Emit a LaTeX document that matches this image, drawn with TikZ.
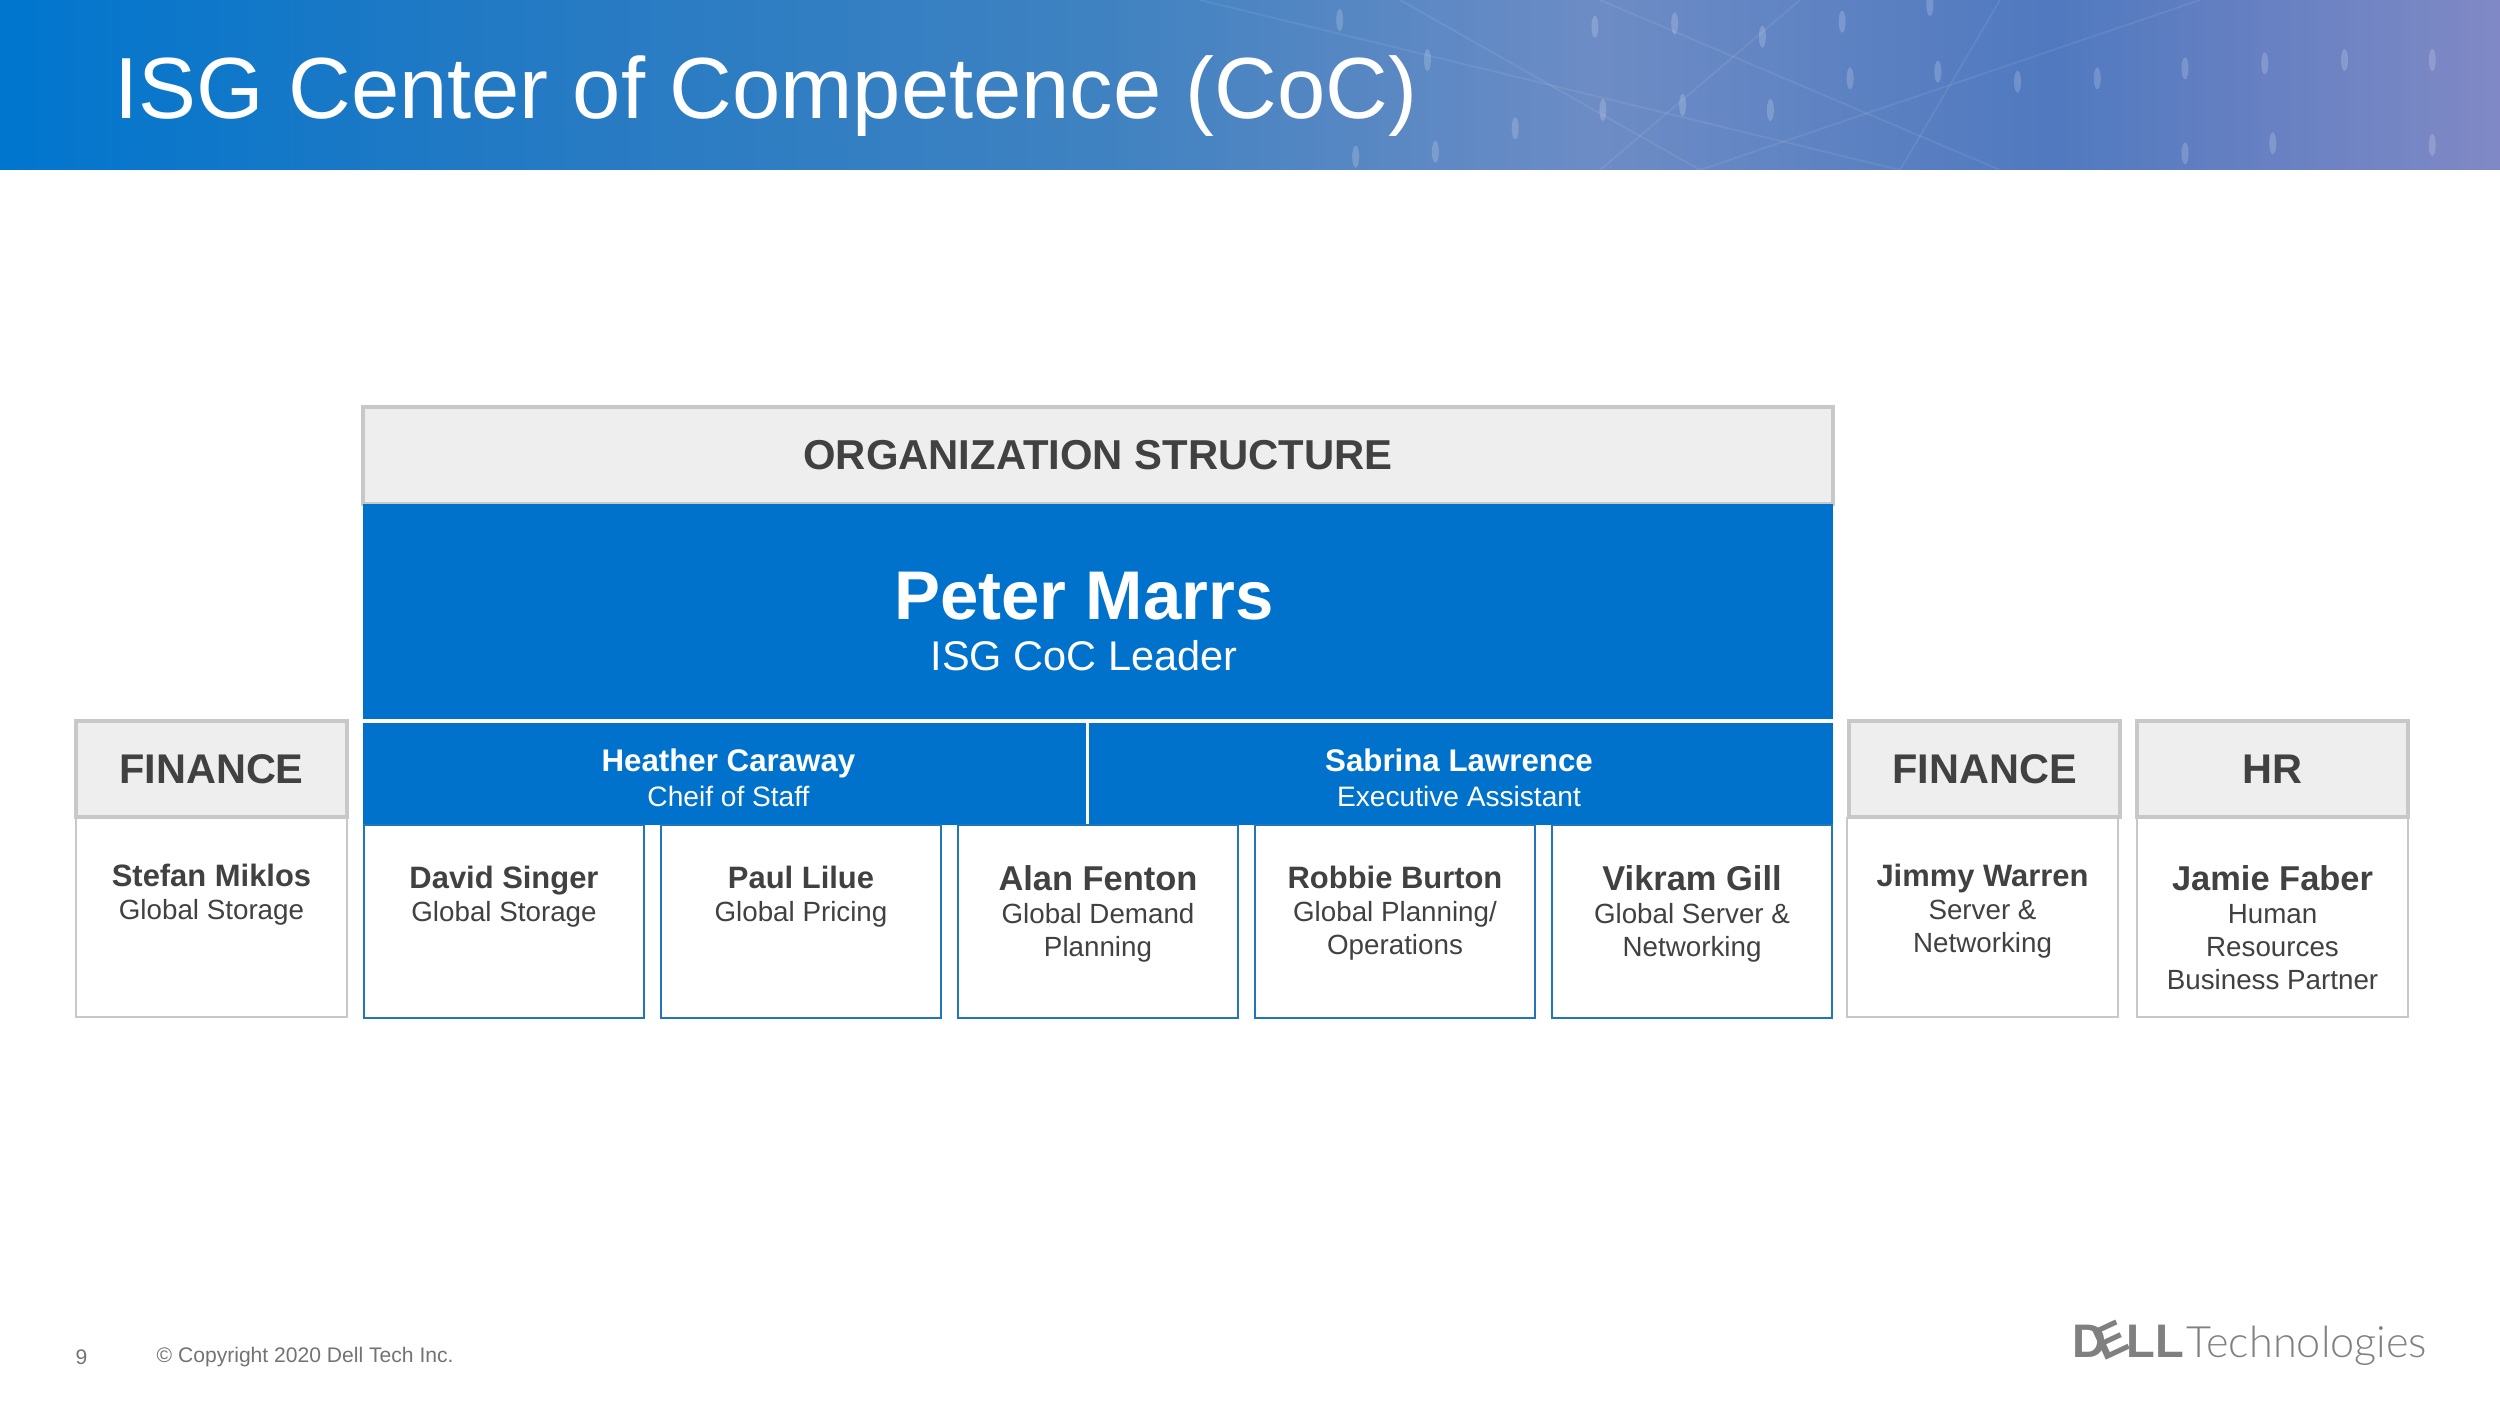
\documentclass[tikz,border=0pt]{standalone}
\usepackage{fontspec}
\setmainfont{Liberation Sans}
\newfontfamily\logofont{Lato Light}
\usetikzlibrary{positioning, shapes.geometric}

\definecolor{dellblue}{HTML}{0072CB}
\definecolor{edgeblue}{HTML}{1F76BC}
\definecolor{edgegray}{HTML}{C8C8C8}
\definecolor{headgray}{HTML}{EEEEEE}
\definecolor{inkgray}{HTML}{414141}
\definecolor{logogray}{HTML}{808080}
\definecolor{bannera}{HTML}{0076CE}
\definecolor{bannerb}{HTML}{2079C4}
\definecolor{bannerc}{HTML}{3F82C1}
\definecolor{bannerd}{HTML}{6D8CC5}
\definecolor{bannere}{HTML}{5079BF}
\definecolor{bannerf}{HTML}{8089C5}

\pgfdeclarehorizontalshading{bannershade}{100bp}{
  color(0bp)=(bannera);
  color(25bp)=(bannera);
  color(34bp)=(bannerb);
  color(47bp)=(bannerc);
  color(57bp)=(bannerd);
  color(66bp)=(bannere);
  color(75bp)=(bannerf);
  color(100bp)=(bannerf)}

\newcommand{\nameS}[1]{{\fontsize{8.8}{9.6}\selectfont\bfseries #1}}
\newcommand{\nameL}[1]{{\fontsize{9.8}{9.6}\selectfont\bfseries #1}}

\begin{document}
\begin{tikzpicture}[
        headbox/.style={rectangle, draw=edgegray, line width=0.9pt, fill=headgray, outer sep=0pt,
                  text=inkgray, font=\fontsize{11.8}{13}\selectfont\bfseries, minimum width=2.71cm, minimum height=0.96cm},
        sidebox/.style={rectangle, draw=edgegray, line width=0.8pt, fill=white, outer sep=0pt,
                  minimum width=2.71cm, minimum height=1.99cm},
        b/.style={rectangle, draw=edgeblue, line width=0.75pt, fill=white, outer sep=0pt,
                  minimum width=2.8cm, minimum height=1.93cm},
        solid/.style={rectangle, fill=dellblue, outer sep=0pt, text=white, align=center},
        barlabel/.style={text=white, align=center, inner sep=0pt},
        who/.style={text=inkgray, align=center, inner sep=0pt, font=\fontsize{7.9}{9.4}\selectfont},
        node distance=0.17cm]
      \useasboundingbox (0,0) rectangle (25,-14.03);

      % banner
      \shade[shading=bannershade] (0,0) rectangle (25,-1.7);
      \foreach \a/\b in {1000/80, 1050/70, 1155/65, 1105/110, 1210/15, 840/60, 895/180, 1215/215,
                         1160/235, 1265/245, 1315/235, 1370/205, 1420/190, 1470/180, 1525/180, 1005/330,
                         1055/315, 1110/330, 950/385, 900/455, 850/470, 1425/430, 1370/460, 1525/435}
        \fill[white, opacity=0.18] ({\a/62.7},{-\b/300}) ellipse (0.035 and 0.11);
      \foreach \a/\b in {12/19, 14/17, 16/20, 18/16, 20/19, 22/17}
        \draw[white, opacity=0.08, line width=0.5pt] (\a,0) -- (\b,-1.7);
      \node[anchor=west, inner sep=0pt, text=white, font=\fontsize{24.7}{28}\selectfont] (title) at (1.14,-0.96)
        {ISG Center of Competence (CoC)};

      % middle block
      \node[rectangle, draw=edgegray, line width=0.9pt, fill=headgray, outer sep=0pt, anchor=north west,
            minimum width=14.7cm, minimum height=0.97cm, text=inkgray,
            font=\fontsize{11.9}{13}\selectfont\bfseries] (org) at (3.63,-4.07) {ORGANIZATION STRUCTURE};
      \node[solid, below=0pt of org, minimum width=14.7cm, minimum height=2.15cm] (peter) {};
      \node[barlabel] (peterlabel) at ([xshift=-0.14cm,yshift=-0.1cm]peter.center)
        {{\fontsize{19.6}{21}\selectfont\bfseries Peter Marrs} \\[2.7pt] {\fontsize{11.8}{13}\selectfont ISG CoC Leader}};
      \node[solid, anchor=north west, minimum width=7.23cm, minimum height=1.02cm] (heather) at (3.63,-7.23) {};
      \node[solid, right=0.03cm of heather, minimum width=7.44cm, minimum height=1.02cm] (sabrina) {};
      \node[barlabel] (heatherlabel) at ([xshift=0.04cm,yshift=-0.04cm]heather.center)
        {{\fontsize{8.9}{10}\selectfont\bfseries Heather Caraway} \\[-2pt] {\fontsize{8}{10}\selectfont Cheif of Staff}};
      \node[barlabel] (sabrinalabel) at ([xshift=-0.02cm,yshift=-0.04cm]sabrina.center)
        {{\fontsize{8.9}{10}\selectfont\bfseries Sabrina Lawrence} \\[-2pt] {\fontsize{8}{10}\selectfont Executive Assistant}};

      % reports
      \node[b, anchor=north west] (david) at (3.64,-8.25) {};
      \node[b, right=of david] (paul) {};
      \node[b, right=of paul] (alan) {};
      \node[b, right=of alan] (robbie) {};
      \node[b, right=of robbie] (vikram) {};
      \node[who, below=0.40cm of david.north] (davidtext) {\nameS{David Singer} \\ Global Storage};
      \node[who, below=0.40cm of paul.north] (paultext) {\nameS{Paul Lilue} \\ Global Pricing};
      \node[who, below=0.40cm of alan.north] (alantext) {\nameL{Alan Fenton} \\ Global Demand \\ Planning};
      \node[who, below=0.40cm of robbie.north] (robbietext) {\nameS{Robbie Burton} \\ Global Planning/ \\ Operations};
      \node[who, below=0.40cm of vikram.north] (vikramtext) {\nameL{Vikram Gill} \\ Global Server \& \\ Networking};

      % left and right columns
      \node[headbox, anchor=north west] (finl) at (0.76,-7.21) {FINANCE};
      \node[sidebox, anchor=north west] (stefan) at (0.76,-8.18) {};
      \node[headbox, anchor=north west] (finr) at (18.49,-7.21) {FINANCE};
      \node[sidebox, anchor=north west] (jimmy) at (18.47,-8.18) {};
      \node[headbox, anchor=north west] (hr) at (21.37,-7.21) {HR};
      \node[sidebox, anchor=north west] (jamie) at (21.37,-8.18) {};
      \node[who, below=0.45cm of stefan.north] (stefantext) {\nameS{Stefan Miklos} \\ Global Storage};
      \node[who, below=0.45cm of jimmy.north] (jimmytext) {\nameS{Jimmy Warren} \\ Server \& \\ Networking};
      \node[who, below=0.47cm of jamie.north] (jamietext) {\nameL{Jamie Faber} \\ Human \\ Resources \\ Business Partner};

      % footer
      \node[anchor=west, inner sep=0pt, text=logogray!90!black, font=\fontsize{6}{8}\selectfont] (pageno) at (0.75,-13.57) {9};
      \node[anchor=west, inner sep=0pt, text=logogray!90!black, font=\fontsize{6}{8}\selectfont] (copyright) at (1.56,-13.57)
        {© Copyright 2020 Dell Tech Inc.};
      \node[anchor=base west, inner sep=0pt, text=logogray, font=\fontsize{13.4}{15}\selectfont\bfseries] (logod) at (20.72,-13.57) {D};
      \node[anchor=base west, inner sep=0pt, text=logogray, rotate=25, font=\fontsize{13.4}{15}\selectfont\bfseries] (logoe) at (21.03,-13.62) {E};
      \node[anchor=base west, inner sep=0pt, text=logogray, font=\fontsize{13.4}{15}\selectfont\bfseries] (logol) at (21.26,-13.57) {LL};
      \node[anchor=base west, inner sep=0pt, text=logogray, font=\fontsize{12.3}{15}\selectfont\logofont] (logot) at (21.86,-13.57) {Technologies};
    \end{tikzpicture}
\end{document}
